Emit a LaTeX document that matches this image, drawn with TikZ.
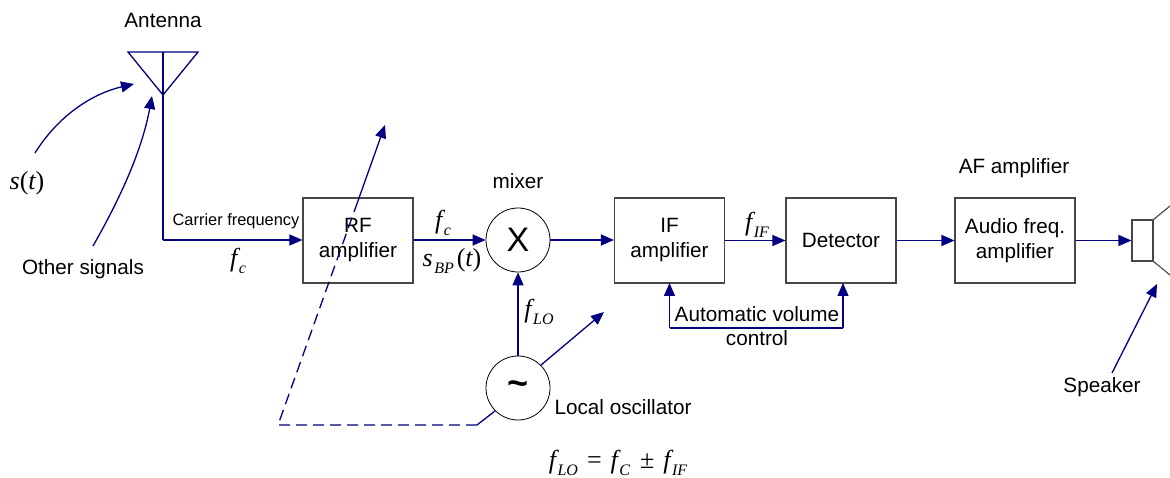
\documentclass[tikz,border=0pt]{standalone}
\usepackage{fontspec}
\setmainfont{Liberation Sans}
\newfontfamily\timesfont{Liberation Serif}
\usetikzlibrary{arrows.meta}
\definecolor{wire}{RGB}{0,0,128}
\definecolor{edgegray}{RGB}{70,70,70}
\newcommand{\sym}[1]{{\timesfont\itshape\fontsize{26}{26}\selectfont #1}}
\newcommand{\upr}[1]{{\timesfont\fontsize{26}{26}\selectfont #1}}
\newcommand{\low}[1]{\kern1.5pt\raisebox{-7pt}{\timesfont\itshape\fontsize{16}{16}\selectfont #1}}
\newcommand{\drop}[1]{\raisebox{-2pt}{#1}}
\tikzset{
	block/.style={shape=rectangle,draw=edgegray,line width=1.1pt,minimum width=110pt,minimum height=85pt,align=center,inner sep=0pt,font=\fontsize{20.7}{25}\selectfont},
	round/.style={shape=circle,draw=black,line width=0.8pt,minimum size=64pt,inner sep=0pt},
	label/.style={inner sep=0pt,align=center,font=\fontsize{20.7}{24}\selectfont},
	sig/.style={draw=wire,line width=1.3pt,-{Triangle[length=13pt,width=11pt]}},
	bare/.style={draw=wire,line width=1.3pt},
	outline/.style={draw=edgegray,line width=1.1pt}
}
\begin{document}
\begin{tikzpicture}[x=1pt,y=-1pt]
	\useasboundingbox (0,0) rectangle (1170,478);
	\clip (0,0) rectangle (1170,478);

	\node[block] (rf) at (358, 240.5)     {\drop{RF}\\\drop{amplifier}};
	\node[block] (if) at (669.5, 240.5)     {\drop{IF}\\\drop{amplifier}};
	\node[block] (det) at (841, 240.5)     {Detector};
	\node[block,minimum width=120pt] (af) at (1015, 240.5)     {\drop{Audio freq.}\\\drop{amplifier}};

	\node[round,font=\fontsize{34}{34}\selectfont] (mix) at (518, 240)     {X};
	\node[round,font=\bfseries\fontsize{36}{36}\selectfont] (osc) at (518, 388)     {\raisebox{-7pt}{\textasciitilde}};

	\node[shape=rectangle,outline,minimum width=21pt,minimum height=41pt,inner sep=0pt] (spk) at (1142.5, 240.5)     {};

	% antenna
	\coordinate (tipl) at (128, 52);
	\coordinate (tipr) at (198, 52);
	\coordinate (tipm) at (163, 52);
	\coordinate (tipb) at (163, 95);
	\coordinate (bend) at (163, 240);
	\path[bare] (tipl) -- (tipr) -- (tipb) -- cycle;
	\path[bare] (tipm) -- (tipb) -- (bend);
	\path[sig] (bend) -- (rf.west |- bend);

	% labels
	\node[label] (ant) at (163, 20)     {Antenna};
	\node (st) at (27, 183)     {\sym{s}\upr{(}\sym{t}\upr{)}};
	\node[label] (other) at (83, 269)     {Other signals};
	\node[label,font=\fontsize{16.4}{18}\selectfont] (carrier) at (236, 221)     {Carrier frequency};
	\node (fc) at (238, 261)     {\sym{f}\low{c}};
	\node (fcm) at (443, 223)     {\sym{f}\low{c}};
	\node (sbp) at (452, 261)     {\sym{s}\low{BP}\kern3pt\upr{(}\sym{t}\upr{)}};
	\node[label] (mixlab) at (518, 181)     {mixer};
	\node (flo) at (539, 312)     {\sym{f}\low{LO}};
	\node (fif) at (757, 225)     {\sym{f}\low{IF}};
	\node[label] (aflab) at (1014, 168)     {AF amplifier};
	\node[label] (agc) at (757, 326)     {Automatic volume\\control};
	\node[label] (osclab) at (623, 407)     {Local oscillator};
	\node[label] (spklab) at (1102, 387)     {Speaker};
	\node (eqn) at (618, 463)     {\sym{f}\low{LO}\kern9pt\upr{=}\kern9pt\sym{f}\low{C}\kern10pt\upr{±}\kern9pt\sym{f}\low{IF}};

	% chain
	\path[sig] (rf.east |- mix.west) -- (mix.west);
	\path[sig] (mix.east) -- (if.west |- mix.east);
	\path[sig] (if.east) -- (det.west);
	\path[sig] (det.east) -- (af.west);
	\path[sig] (af.east) -- (spk.west);
	\path[sig] (osc.north) -- (mix.south);

	% volume control loop
	\coordinate (agcl) at (669.5, 328);
	\coordinate (agcr) at (843, 328);
	\path[bare] (agcl) -- (agcr);
	\path[sig] (agcl) -- (669.5, 283);
	\path[sig] (agcr) -- (843, 283);

	% incoming signals
	\coordinate (ststart) at (35, 153);
	\coordinate (stend) at (134, 84);
	\coordinate (othstart) at (93, 246);
	\coordinate (othend) at (152, 96);
	\path[sig] (ststart) .. controls (60, 113) and (95, 93) .. (stend);
	\path[sig] (othstart) .. controls (125, 190) and (143, 145) .. (othend);

	% tuning
	\coordinate (tunea) at (278, 425);
	\coordinate (tuneb) at (477, 425);
	\coordinate (tunec) at (385, 125);
	\coordinate (tuned) at (355.8, 207);
	\coordinate (osctop) at (604, 312);
	\path[bare] (osc.225) -- (tuneb);
	\path[bare,dash pattern=on 11pt off 6pt] (tuneb) -- (tunea) -- (tuned);
	\path[sig] (tuned) -- (tunec);
	\path[sig] (osc.45) -- (osctop);

	% speaker
	\coordinate (conea) at (1170, 206);
	\coordinate (coneb) at (1170, 275);
	\path[outline] (spk.north east) -- (conea);
	\path[outline] (spk.south east) -- (coneb);
	\coordinate (spkfoot) at (1112, 373);
	\coordinate (spkhead) at (1157, 284);
	\path[sig] (spkfoot) -- (spkhead);
\end{tikzpicture}
\end{document}
